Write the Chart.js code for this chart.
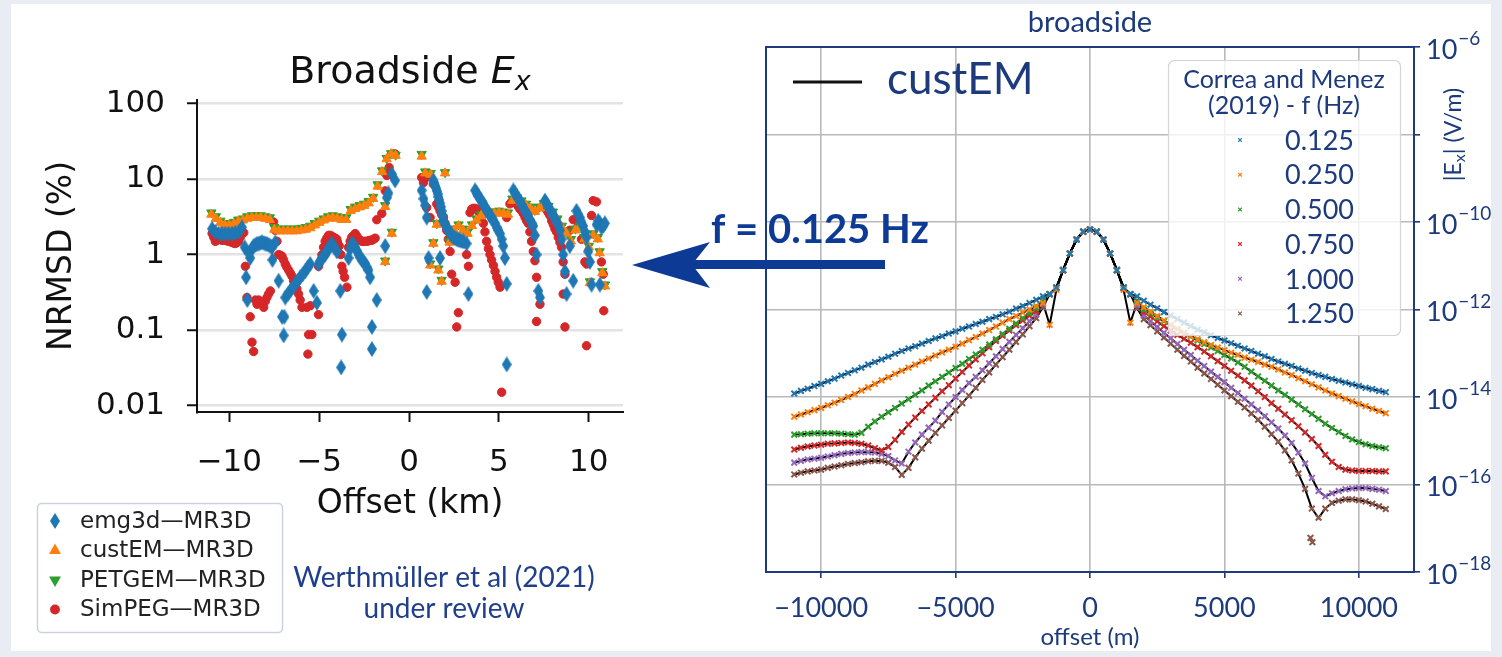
<!DOCTYPE html>
<html>
<head>
<meta charset="utf-8">
<script src="https://cdn.jsdelivr.net/npm/chart.js@4.4.1/dist/chart.umd.min.js"></script>
<style>
  html, body { margin: 0; padding: 0; }
  body { width: 1502px; height: 657px; background: #e9edf3; position: relative; overflow: hidden; }
  #panel { position: absolute; left: 11px; top: 4px; width: 1480px; height: 647px; background: #fff; }
  #leftBox { position: absolute; left: 0; top: 0; width: 640px; height: 657px; }
  #rightBox { position: absolute; left: 600px; top: 0; width: 902px; height: 657px; }
</style>
</head>
<body>
<div id="panel"></div>
<div id="leftBox"><canvas id="nrmsdChart"></canvas></div>
<div id="rightBox"><canvas id="fieldChart"></canvas></div>
<script>
// ---------- NRMSD panel: offset (km) / NRMSD (%) per code ----------
const emgX = [-10.96,-10.78,-10.59,-10.4,-10.22,-10.04,-9.85,-9.67,-9.48,-9.3,-9.15,-9.07,-9.0,-8.84,-8.74,-8.55,-8.37,-8.19,-8.0,-7.82,-7.63,-7.6,-7.44,-7.26,-7.07,-6.98,-6.94,-6.89,-6.61,-6.33,-6.06,-5.78,-5.5,-5.31,-5.13,-5.04,-4.85,-4.67,-4.48,-4.3,-4.02,-3.83,-3.74,-3.78,-3.37,-3.19,-3.0,-2.81,-2.63,-2.44,-2.26,-2.17,-2.07,-2.07,-1.8,-1.33,-1.24,-1.15,-0.96,-0.78,
  -8.93,-8.65,-8.46,-8.28,-8.09,-7.91,-7.72,-6.75,-6.47,-6.2,-5.92,-5.64,-4.95,-4.76,-4.58,-4.39,-4.16,-3.28,-3.09,-2.9,-2.72,-2.53,-2.35,
  0.7,0.8,0.89,0.98,1.08,0.98,1.35,1.45,1.54,1.63,1.72,1.81,1.91,2.09,2.28,2.46,2.65,2.83,3.02,1.72,3.2,3.3,3.67,3.85,4.04,4.22,4.41,4.59,4.78,4.96,5.15,5.33,5.43,5.43,5.8,5.98,6.17,6.35,6.54,6.72,6.91,7.09,7.19,7.28,7.56,7.74,7.93,8.11,8.3,8.48,8.57,8.67,8.76,8.94,9.13,9.31,9.5,9.68,9.87,9.96,10.06,10.15,10.43,10.52,10.61,10.7,10.8,10.89,10.61,
  1.4,1.5,1.59,1.68,1.77,1.86,2.0,2.18,2.37,2.56,2.74,2.92,3.76,3.94,4.13,4.31,4.5,4.69,4.87,5.06,5.24,5.89,6.08,6.26,6.45,6.63,6.82,7.0,7.65,7.84,8.02,8.2,8.39,9.41,9.59,9.78];
const emgY = [2.2,2.0,1.9,1.9,1.9,1.9,1.9,1.95,2.0,2.3,1.25,0.5,0.25,0.9,1.2,1.35,1.4,1.45,1.4,1.35,1.25,0.85,1.45,0.45,0.15,0.085,0.15,0.27,0.33,0.41,0.5,0.6,0.75,0.33,0.23,0.75,0.9,1.0,1.2,1.4,1.1,0.33,0.087,0.032,0.9,1.4,1.25,1.0,0.85,0.75,0.62,0.5,0.11,0.056,0.25,1.3,5.7,6.5,11.7,9.6,
  1.05,1.3,1.38,1.43,1.43,1.38,1.3,0.3,0.37,0.45,0.55,0.68,0.82,0.95,1.1,1.3,1.25,1.2,1.35,1.12,0.92,0.8,0.68,
  7.1,5.5,4.5,3.1,0.9,0.32,9.6,8.2,7.0,5.8,4.8,3.8,2.8,2.3,1.9,1.7,1.6,1.55,1.5,0.9,1.4,0.3,7.1,6.0,5.1,4.3,3.6,3.1,2.6,2.1,1.6,0.9,0.41,0.035,7.1,6.0,5.0,4.2,3.5,2.9,2.4,1.0,0.33,0.27,5.2,4.3,3.6,3.0,2.5,1.6,1.0,0.6,0.3,1.3,0.45,3.8,3.1,2.4,1.7,1.1,0.8,0.4,2.5,2.8,2.6,2.3,2.4,2.6,0.4,
  8.9,7.6,6.4,5.3,4.3,3.3,2.5,2.1,1.8,1.65,1.57,1.52,6.5,5.5,4.7,3.9,3.3,2.8,2.3,1.9,1.3,6.5,5.5,4.6,3.8,3.2,2.6,1.8,4.7,3.9,3.3,2.7,2.1,3.4,2.7,2.0];

const custX = [-11,-10.75,-10.5,-10.25,-10,-9.75,-9.5,-9.25,-9,-8.75,-8.5,-8.25,-8,-7.75,-7.5,-7.25,-7,-6.75,-6.5,-6.25,-6,-5.75,-5.5,-5.25,-5,-4.75,-4.5,-4.25,-4,-3.75,-3.5,-3.25,-3,-2.75,-2.5,-2.25,-2,-1.75,-1.5,-1.33,-1.33,-1.25,-1,-0.96,-0.75,
  0.7,0.9,1.17,1.2,1.35,1.54,1.63,1.81,2.0,2.25,2.5,2.75,3.0,3.25,3.5,3.75,4.0,4.25,4.5,4.75,5.0,5.25,5.5,5.75,6.0,6.25,6.5,6.75,7.0,7.25,7.5,7.75,8.0,8.25,8.5,8.75,9.0,9.25,9.5,9.75,10.0,10.06,10.25,10.5,10.6,10.75,10.9];
const custY = [3.4,3.0,2.65,2.45,2.45,2.55,2.75,2.85,3.0,3.1,3.1,3.1,3.0,2.9,2.15,2.05,2.05,2.05,2.05,2.05,2.1,2.15,2.25,2.45,2.65,2.85,3.0,3.1,3.0,2.9,2.9,3.8,4.05,4.25,4.45,4.8,5.5,8.0,12.5,4.3,0.8,18.5,21.5,1.9,20.5,
  20,12,0.72,11.5,1.4,2.5,0.62,0.44,12.0,1.45,2.1,2.4,2.1,1.9,2.4,2.85,3.25,3.4,3.5,3.5,3.6,3.5,3.4,5.2,5.4,4.9,4.5,4.1,3.7,4.1,4.6,4.2,3.5,2.85,2.3,1.9,1.5,2.1,2.3,1.6,1.25,0.42,1.8,1.6,1.05,0.57,0.38];

const petX = [-11,-10.75,-10.5,-10.25,-10,-9.75,-9.5,-9.25,-9,-8.75,-8.5,-8.25,-8,-7.75,-7.5,-7.25,-7,-6.75,-6.5,-6.25,-6,-5.75,-5.5,-5.25,-5,-4.75,-4.5,-4.25,-4,-3.75,-3.5,-3.25,-3,-2.75,-2.5,-2.25,-2,-1.75,-1.5,-1.33,-1.33,-1.25,-1,-0.96,-0.75,
  0.7,0.9,1.17,1.2,1.35,1.54,1.63,1.81,2.0,2.25,2.5,2.75,3.0,3.25,3.5,3.75,4.0,4.25,4.5,4.75,5.0,5.25,5.5,5.75,6.0,6.25,6.5,6.75,7.0,7.25,7.5,7.75,8.0,8.25,8.5,8.75,9.0,9.25,9.5,9.75,10.0,10.06,10.25,10.5,10.6,10.75,10.9];
const petY = [3.6,3.2,2.8,2.6,2.6,2.7,2.9,3.0,3.2,3.3,3.3,3.3,3.2,3.1,2.3,2.2,2.2,2.2,2.2,2.2,2.25,2.3,2.4,2.6,2.8,3.0,3.2,3.3,3.2,3.1,3.1,4.0,4.3,4.5,4.7,5.1,5.8,8.5,13,4.5,0.83,19,22,2.0,21,
  21.5,12.6,0.76,12.0,1.45,2.6,0.65,0.46,12.3,1.5,2.2,2.5,2.2,2.0,2.5,3.0,3.4,3.6,3.7,3.7,3.8,3.7,3.6,5.5,5.7,5.2,4.7,4.3,3.9,4.3,4.8,4.4,3.7,3.0,2.4,2.0,1.6,2.2,2.4,1.7,1.3,0.44,1.9,1.7,1.1,0.6,0.4];

const simX = [-10.96,-10.78,-10.59,-10.4,-10.22,-10.04,-9.85,-9.67,-9.48,-9.3,-9.2,-9.11,-9.02,-8.84,-8.74,-8.65,-8.55,-8.46,-8.28,-8.09,-7.91,-7.72,-7.54,-7.44,-7.26,-7.07,-6.89,-6.7,-6.52,-6.33,-6.15,-5.96,-5.69,-5.5,-5.59,-5.41,-5.63,-5.04,-5.04,-4.85,-4.67,-4.48,-4.21,-4.02,-3.89,-3.74,-3.59,-3.46,-3.37,-3.19,-3.0,-2.81,-2.63,-2.35,-2.07,-1.89,-1.8,-1.52,-1.33,-1.24,-1.11,-0.96,-0.78,
  -10.87,-10.68,-10.5,-10.31,-10.13,-9.94,-9.76,-9.57,-9.39,-8.37,-8.18,-8.0,-7.82,-7.35,-7.17,-6.98,-6.8,-6.61,-6.43,-6.24,-6.06,-4.76,-4.58,-4.39,-4.3,-4.11,-3.98,-3.8,-3.67,-3.28,-3.09,-2.9,-2.72,-2.53,-2.44,-2.26,-2.17,-1.98,
  0.7,0.8,0.98,1.08,1.17,1.35,0.98,1.17,1.54,1.72,1.91,2.09,2.28,2.37,2.56,2.74,2.65,3.11,3.2,3.3,3.39,3.48,3.76,4.13,4.31,4.5,4.69,4.87,5.06,5.15,5.43,5.61,5.98,6.35,6.63,6.81,7.0,7.09,7.28,7.09,7.46,7.83,8.2,8.48,8.57,8.67,8.57,8.67,8.94,9.13,9.41,9.59,9.78,9.87,9.87,10.15,10.24,10.43,10.61,10.7,10.8,10.83,
  1.63,1.81,2.0,2.18,3.57,3.67,3.85,3.94,4.22,4.41,4.59,4.78,4.96,5.7,5.8,6.08,6.17,6.26,6.45,6.54,6.72,6.91,7.56,7.65,7.74,7.93,8.02,8.11,8.3,8.39];
const simY = [1.9,1.5,1.6,1.55,1.55,1.5,1.45,1.4,1.5,1.9,1.95,0.7,0.27,0.15,0.069,0.052,0.25,0.22,0.24,0.2,0.27,0.33,2.7,2.1,1.0,0.95,0.75,0.62,0.52,0.4,0.3,0.2,0.2,0.21,0.087,0.087,0.048,0.7,0.16,1.0,1.5,1.8,1.7,1.6,1.3,0.7,0.5,0.37,1.25,1.7,1.9,1.6,1.5,1.5,1.55,1.65,2.9,3.5,7.0,11.2,14.3,21.6,21.6,
  1.7,1.55,1.58,1.55,1.52,1.48,1.42,1.45,1.7,0.25,0.22,0.24,0.3,1.5,0.98,0.85,0.68,0.57,0.45,0.35,0.25,1.25,1.65,1.8,1.75,1.65,1.45,1.0,0.6,1.5,1.8,1.75,1.55,1.5,1.5,1.52,1.55,1.6,
  10.5,9.0,10.7,11.5,11.0,8.6,4.2,3.1,4.7,3.8,3.1,2.1,1.1,0.55,0.43,0.17,0.11,1.4,1.0,0.7,3.6,4.0,4.0,2.6,1.5,1.0,0.72,0.5,0.37,0.015,3.1,4.7,4.7,3.5,2.6,1.5,0.83,0.5,0.22,0.13,4.5,3.3,2.0,1.25,0.8,0.55,0.3,0.11,2.1,2.9,2.4,1.6,0.8,0.75,0.062,3.3,5.2,5.0,2.6,0.8,0.55,0.18,
  4.3,3.4,2.6,1.6,4.1,4.1,3.8,3.4,2.0,1.2,0.85,0.6,0.43,5.0,4.9,4.3,4.0,3.8,3.1,2.8,2.0,1.1,4.3,3.9,3.6,2.8,2.5,2.2,1.7,1.45];

const nrmsdTicks = [0.01, 0.1, 1, 10, 100];
const kmTicks = [-10, -5, 0, 5, 10];
const nrmsdLabels = ['emg3d\u2014MR3D', 'custEM\u2014MR3D', 'PETGEM\u2014MR3D', 'SimPEG\u2014MR3D'];

// ---------- |Ex| panel: offset (m) / log10 |Ex| (V/m) per frequency ----------
const offsetsM = [-11000,-10750,-10500,-10250,-10000,-9750,-9500,-9250,-9000,-8750,-8500,-8250,-8000,-7750,-7500,-7250,-7000,-6750,-6500,-6250,-6000,-5750,-5500,-5250,-5000,-4750,-4500,-4250,-4000,-3750,-3500,-3250,-3000,-2750,-2500,-2250,-2000,
  -1750,-1500,-1250,-1000,-750,-500,-250,0,250,500,750,1000,1250,1500,1750,
  2000,2250,2500,2750,3000,3250,3500,3750,4000,4250,4500,4750,5000,5250,5500,5750,6000,6250,6500,6750,7000,7250,7500,7750,8000,8250,8500,8750,9000,9250,9500,9750,10000,10250,10500,10750,11000];
const freqLabels = ['0.125', '0.250', '0.500', '0.750', '1.000', '1.250'];
const log0125 = [-13.92,-13.86,-13.81,-13.75,-13.70,-13.64,-13.58,-13.51,-13.45,-13.39,-13.33,-13.26,-13.20,-13.14,-13.08,-13.01,-12.95,-12.89,-12.84,-12.78,-12.72,-12.66,-12.61,-12.55,-12.50,-12.44,-12.39,-12.33,-12.28,-12.22,-12.17,-12.11,-12.05,-11.98,-11.92,-11.85,-11.78,
  -11.70,-11.65,-11.50,-11.10,-10.72,-10.40,-10.22,-10.17,-10.22,-10.40,-10.72,-11.10,-11.50,-11.65,-11.70,
  -11.80,-11.89,-11.97,-12.06,-12.14,-12.22,-12.30,-12.38,-12.46,-12.52,-12.59,-12.65,-12.71,-12.77,-12.83,-12.89,-12.95,-13.01,-13.07,-13.13,-13.19,-13.24,-13.29,-13.35,-13.40,-13.45,-13.50,-13.54,-13.59,-13.63,-13.67,-13.71,-13.75,-13.79,-13.82,-13.86,-13.89];
const log0250 = [-14.45,-14.40,-14.35,-14.30,-14.25,-14.19,-14.13,-14.07,-14.00,-13.93,-13.85,-13.78,-13.70,-13.62,-13.55,-13.47,-13.40,-13.33,-13.26,-13.19,-13.12,-13.05,-12.98,-12.92,-12.85,-12.78,-12.70,-12.63,-12.55,-12.47,-12.39,-12.30,-12.22,-12.15,-12.07,-12.00,-11.92,
  -11.85,-12.35,-11.55,-11.10,-10.72,-10.40,-10.22,-10.17,-10.22,-10.40,-10.72,-11.10,-11.55,-12.30,-11.85,
  -11.95,-12.05,-12.15,-12.25,-12.35,-12.44,-12.53,-12.61,-12.68,-12.75,-12.81,-12.87,-12.93,-12.99,-13.04,-13.10,-13.15,-13.20,-13.26,-13.31,-13.37,-13.44,-13.50,-13.57,-13.64,-13.71,-13.78,-13.85,-13.92,-13.98,-14.04,-14.10,-14.16,-14.21,-14.27,-14.32,-14.37];
const log0500 = [-14.86,-14.85,-14.84,-14.83,-14.83,-14.83,-14.83,-14.84,-14.85,-14.86,-14.82,-14.68,-14.56,-14.45,-14.35,-14.25,-14.15,-14.05,-13.95,-13.85,-13.74,-13.64,-13.54,-13.44,-13.34,-13.24,-13.13,-13.03,-12.92,-12.80,-12.68,-12.56,-12.44,-12.32,-12.20,-12.08,-11.97,
  -11.78,-11.65,-11.50,-11.10,-10.72,-10.40,-10.22,-10.17,-10.22,-10.40,-10.72,-11.10,-11.50,-11.65,-11.80,
  -12.00,-12.09,-12.18,-12.27,-12.36,-12.45,-12.54,-12.62,-12.71,-12.79,-12.87,-12.95,-13.04,-13.12,-13.21,-13.31,-13.42,-13.53,-13.63,-13.74,-13.85,-13.95,-14.06,-14.17,-14.28,-14.39,-14.50,-14.61,-14.71,-14.80,-14.89,-14.97,-15.03,-15.08,-15.12,-15.15,-15.17];
const log0750 = [-15.20,-15.16,-15.13,-15.11,-15.09,-15.07,-15.06,-15.05,-15.04,-15.05,-15.07,-15.11,-15.17,-15.22,-15.14,-14.98,-14.80,-14.63,-14.47,-14.32,-14.17,-14.02,-13.87,-13.73,-13.58,-13.43,-13.28,-13.14,-13.00,-12.86,-12.72,-12.60,-12.48,-12.36,-12.25,-12.14,-12.04,
  -11.82,-11.65,-11.50,-11.10,-10.72,-10.40,-10.22,-10.17,-10.22,-10.40,-10.72,-11.10,-11.50,-11.65,-11.84,
  -12.06,-12.16,-12.27,-12.38,-12.48,-12.58,-12.67,-12.76,-12.86,-12.96,-13.07,-13.18,-13.29,-13.40,-13.51,-13.62,-13.74,-13.87,-14.00,-14.14,-14.27,-14.40,-14.53,-14.67,-14.81,-14.96,-15.12,-15.32,-15.48,-15.60,-15.66,-15.68,-15.69,-15.69,-15.69,-15.70,-15.70];
const log1000 = [-15.50,-15.46,-15.43,-15.41,-15.39,-15.36,-15.33,-15.30,-15.28,-15.27,-15.26,-15.26,-15.27,-15.30,-15.35,-15.45,-15.52,-15.25,-15.04,-14.86,-14.70,-14.54,-14.34,-14.17,-14.00,-13.84,-13.68,-13.54,-13.39,-13.23,-13.07,-12.90,-12.74,-12.58,-12.43,-12.27,-12.12,
  -11.88,-11.65,-11.50,-11.10,-10.72,-10.40,-10.22,-10.17,-10.22,-10.40,-10.72,-11.10,-11.50,-11.65,-11.90,
  -12.14,-12.27,-12.40,-12.53,-12.66,-12.79,-12.92,-13.04,-13.17,-13.29,-13.42,-13.54,-13.66,-13.79,-13.91,-14.04,-14.17,-14.30,-14.44,-14.58,-14.72,-14.88,-15.05,-15.27,-15.52,-15.85,-16.15,-16.27,-16.20,-16.15,-16.11,-16.09,-16.08,-16.08,-16.10,-16.12,-16.15];
const log1250 = [-15.77,-15.73,-15.70,-15.68,-15.66,-15.62,-15.59,-15.56,-15.53,-15.51,-15.49,-15.47,-15.46,-15.46,-15.50,-15.60,-15.78,-15.62,-15.38,-15.18,-15.00,-14.82,-14.65,-14.48,-14.31,-14.14,-13.97,-13.79,-13.61,-13.44,-13.26,-13.09,-12.92,-12.74,-12.57,-12.38,-12.20,
  -11.95,-11.65,-11.50,-11.10,-10.72,-10.40,-10.22,-10.17,-10.22,-10.40,-10.72,-11.10,-11.50,-11.65,-11.97,
  -12.22,-12.36,-12.50,-12.64,-12.78,-12.92,-13.06,-13.19,-13.33,-13.46,-13.59,-13.72,-13.85,-13.98,-14.11,-14.24,-14.38,-14.52,-14.68,-14.85,-15.02,-15.22,-15.45,-15.75,-16.10,-16.55,-16.76,-16.55,-16.42,-16.37,-16.34,-16.34,-16.36,-16.39,-16.44,-16.50,-16.56];
// stray 1.250 Hz samples below the minimum near 8.2 km
const extra1250X = [8200, 8270];
const extra1250Log = [-17.22, -17.32];

const fieldTicks = [1e-18, 1e-16, 1e-14, 1e-12, 1e-10, 1e-8, 1e-6];
const offsetTicks = [-10000, -5000, 0, 5000, 10000];

// ---------- styling ----------
const TAB = ['#1f77b4', '#ff7f0e', '#2ca02c', '#d62728', '#9467bd', '#8c564b'];
const NAVY = '#1c3a7c';
const ARROW = '#0c3a94';
const SANS = '"DejaVu Sans", sans-serif';
const SLIDE = 'Lato, "Open Sans", sans-serif';

const pairs = (xs, ys) => xs.map((x, i) => ({ x: x, y: ys[i] }));
const minusFmt = v => (v < 0 ? '\u2212' + Math.abs(v) : String(v));

// thin diamond marker for emg3d
const diamond = document.createElement('canvas');
diamond.width = 10; diamond.height = 16;
(function () {
  const c = diamond.getContext('2d');
  c.fillStyle = TAB[0];
  c.beginPath();
  c.moveTo(5, 0); c.lineTo(10, 8); c.lineTo(5, 16); c.lineTo(0, 8);
  c.closePath(); c.fill();
})();

const nrmsdStyles = [
  { pointStyle: diamond, radius: 5, rotation: 0 },
  { pointStyle: 'triangle', radius: 5.4, rotation: 0 },
  { pointStyle: 'triangle', radius: 5.4, rotation: 180 },
  { pointStyle: 'circle', radius: 4.2, rotation: 0 }
];

// text drawn around the NRMSD axes
const nrmsdDecor = {
  id: 'nrmsdDecor',
  afterDraw(chart) {
    const ctx = chart.ctx;
    const area = chart.chartArea;
    ctx.save();
    ctx.fillStyle = '#111';
    ctx.textBaseline = 'alphabetic';

    // title: Broadside E_x
    const t1 = 'Broadside ';
    ctx.font = '38px ' + SANS;
    const w1 = ctx.measureText(t1).width;
    ctx.font = 'italic 38px ' + SANS;
    const w2 = ctx.measureText('E').width;
    ctx.font = 'italic 27px ' + SANS;
    const w3 = ctx.measureText('x').width;
    const tx = (area.left + area.right) / 2 - (w1 + w2 + w3) / 2;
    ctx.textAlign = 'left';
    ctx.font = '38px ' + SANS;
    ctx.fillText(t1, tx, 83);
    ctx.font = 'italic 38px ' + SANS;
    ctx.fillText('E', tx + w1, 83);
    ctx.font = 'italic 27px ' + SANS;
    ctx.fillText('x', tx + w1 + w2, 90);

    // axis titles
    ctx.font = '33px ' + SANS;
    ctx.textAlign = 'center';
    ctx.textBaseline = 'middle';
    ctx.fillText('Offset (km)', (area.left + area.right) / 2, 504);
    ctx.save();
    ctx.translate(62, (area.top + area.bottom) / 2);
    ctx.rotate(-Math.PI / 2);
    ctx.fillText('NRMSD (%)', 0, 0);
    ctx.restore();

    // legend box
    ctx.fillStyle = '#fff';
    ctx.strokeStyle = '#c9d3df';
    ctx.lineWidth = 1.5;
    ctx.beginPath();
    ctx.roundRect(37.5, 503.5, 245, 129, 4);
    ctx.fill();
    ctx.stroke();
    ctx.font = '23px ' + SANS;
    ctx.textAlign = 'left';
    nrmsdLabels.forEach((lab, i) => {
      const y = 521 + i * 29.5;
      const st = nrmsdStyles[i];
      ctx.fillStyle = TAB[i];
      ctx.strokeStyle = TAB[i];
      Chart.helpers.drawPoint(ctx, { pointStyle: st.pointStyle, radius: st.radius, rotation: st.rotation, borderWidth: 1 }, 55, y);
      ctx.fillStyle = '#222';
      ctx.fillText(lab, 80, y + 1);
    });

    // citation
    ctx.fillStyle = '#1f3f8c';
    ctx.font = '28px ' + SLIDE;
    ctx.textAlign = 'center';
    ctx.fillText('Werthm\u00fcller et al (2021)', 444, 578);
    ctx.fillText('under review', 444, 609);
    ctx.restore();
  }
};

new Chart(document.getElementById('nrmsdChart'), {
  type: 'scatter',
  data: {
    datasets: [
      { label: nrmsdLabels[0], data: pairs(emgX, emgY), pointStyle: diamond, pointRadius: 5, backgroundColor: TAB[0], borderColor: TAB[0] },
      { label: nrmsdLabels[1], data: pairs(custX, custY), pointStyle: 'triangle', pointRadius: 5.4, backgroundColor: TAB[1], borderColor: TAB[1] },
      { label: nrmsdLabels[2], data: pairs(petX, petY), pointStyle: 'triangle', rotation: 180, pointRadius: 5.4, backgroundColor: TAB[2], borderColor: TAB[2] },
      { label: nrmsdLabels[3], data: pairs(simX, simY), pointStyle: 'circle', pointRadius: 4.2, backgroundColor: TAB[3], borderColor: TAB[3] }
    ]
  },
  options: {
    responsive: true,
    maintainAspectRatio: false,
    animation: false,
    layout: { padding: { left: 0, right: 17, top: 100, bottom: 0 } },
    plugins: { legend: { display: false }, tooltip: { enabled: false } },
    scales: {
      x: {
        type: 'linear', min: -11.8, max: 11.9,
        afterBuildTicks: s => { s.ticks = kmTicks.map(v => ({ value: v })); },
        afterFit: s => { s.height = 245; },
        grid: { drawOnChartArea: false, drawTicks: true, tickLength: 10, tickColor: '#111', tickWidth: 2 },
        border: { color: '#111', width: 2 },
        ticks: { color: '#111', font: { family: SANS, size: 31 }, padding: 22, maxRotation: 0, callback: v => minusFmt(v) }
      },
      y: {
        type: 'logarithmic', min: 0.0082, max: 112,
        afterBuildTicks: s => { s.ticks = nrmsdTicks.map(v => ({ value: v })); },
        afterFit: s => { s.width = 197; },
        grid: { color: '#e3e3e3', lineWidth: 2.5, tickLength: 10, tickColor: '#111', tickWidth: 2 },
        border: { color: '#111', width: 2 },
        ticks: { color: '#111', font: { family: SANS, size: 31 }, padding: 22, callback: v => String(v) }
      }
    }
  },
  plugins: [nrmsdDecor]
});

// ---------- |Ex| panel ----------
const fieldLogs = [log0125, log0250, log0500, log0750, log1000, log1250];
const markerSets = fieldLogs.map((lg, i) => {
  const pts = offsetsM.map((x, k) => ({ x: x, y: Math.pow(10, lg[k]) }));
  if (i === 5) extra1250X.forEach((x, k) => pts.push({ x: x, y: Math.pow(10, extra1250Log[k]) }));
  return {
    type: 'scatter', label: freqLabels[i], data: pts,
    pointStyle: 'crossRot', pointRadius: 4, borderWidth: 2, borderColor: TAB[i], backgroundColor: TAB[i]
  };
});
const lineSets = fieldLogs.map(lg => ({
  type: 'line', label: 'custEM',
  data: offsetsM.map((x, k) => ({ x: x, y: Math.pow(10, lg[k]) })),
  borderColor: '#000', borderWidth: 2, tension: 0, fill: false,
  pointStyle: 'triangle', backgroundColor: '#000', pointBorderWidth: 0,
  pointRadius: ctx => (ctx.index % 2 === 0 ? 2 : 0)
}));

function drawPow(ctx, x, y, exp) {
  ctx.textAlign = 'left';
  ctx.textBaseline = 'middle';
  ctx.font = '27px ' + SLIDE;
  ctx.fillText('10', x, y + 3);
  const w = ctx.measureText('10').width;
  ctx.font = '19px ' + SLIDE;
  ctx.fillText('\u2212' + Math.abs(exp), x + w + 1, y - 8);
}

const fieldDecor = {
  id: 'fieldDecor',
  afterDatasetsDraw(chart) {
    const ctx = chart.ctx;
    // frequency legend, semi-transparent over the curves
    const bx = 568, by = 60, bw = 232, bh = 275;
    ctx.save();
    ctx.fillStyle = 'rgba(255,255,255,0.8)';
    ctx.strokeStyle = '#d4d4d4';
    ctx.lineWidth = 1.2;
    ctx.beginPath();
    ctx.roundRect(bx + 0.5, by + 0.5, bw, bh, 6);
    ctx.fill();
    ctx.stroke();
    ctx.fillStyle = NAVY;
    ctx.textAlign = 'center';
    ctx.textBaseline = 'middle';
    ctx.font = '25px ' + SLIDE;
    ctx.fillText('Correa and Menez', bx + bw / 2, 80);
    ctx.fillText('(2019) - f (Hz)', bx + bw / 2, 106);
    ctx.font = '27px ' + SLIDE;
    ctx.textAlign = 'left';
    freqLabels.forEach((lab, i) => {
      const y = 140 + i * 34.7;
      ctx.strokeStyle = TAB[i];
      Chart.helpers.drawPoint(ctx, { pointStyle: 'crossRot', radius: 2.6, borderWidth: 1.6 }, 640, y);
      ctx.fillStyle = NAVY;
      ctx.fillText(lab, 685, y + 1);
    });
    ctx.restore();
  },
  afterDraw(chart) {
    const ctx = chart.ctx;
    const a = chart.chartArea;
    const ys = chart.scales.y;
    ctx.save();
    // full frame
    ctx.strokeStyle = NAVY;
    ctx.lineWidth = 2;
    ctx.strokeRect(a.left, a.top, a.right - a.left, a.bottom - a.top);

    ctx.fillStyle = NAVY;
    ctx.textAlign = 'center';
    ctx.textBaseline = 'middle';
    ctx.font = '29px ' + SLIDE;
    ctx.fillText('broadside', (a.left + a.right) / 2, 23);
    ctx.font = '24px ' + SLIDE;
    ctx.fillText('offset (m)', (a.left + a.right) / 2, 637);

    // right axis labels, 10^-8 gives way to the axis title
    fieldTicks.forEach(v => {
      const e = Math.round(Math.log10(v));
      if (e === -8) return;
      drawPow(ctx, a.right + 12, ys.getPixelForValue(v), e);
    });
    ctx.save();
    ctx.translate(a.right + 40, ys.getPixelForValue(1e-8));
    ctx.rotate(-Math.PI / 2);
    ctx.textAlign = 'left';
    ctx.textBaseline = 'middle';
    ctx.font = '23px ' + SLIDE;
    const p1 = '|E', p3 = '| (V/m)';
    const w1 = ctx.measureText(p1).width;
    ctx.font = '16px ' + SLIDE;
    const w2 = ctx.measureText('x').width;
    ctx.font = '23px ' + SLIDE;
    const w3 = ctx.measureText(p3).width;
    const sx = -(w1 + w2 + w3) / 2;
    ctx.fillText(p1, sx, 0);
    ctx.font = '16px ' + SLIDE;
    ctx.fillText('x', sx + w1, 6);
    ctx.font = '23px ' + SLIDE;
    ctx.fillText(p3, sx + w1 + w2, 0);
    ctx.restore();

    // custEM line legend
    ctx.strokeStyle = '#111';
    ctx.lineWidth = 3;
    ctx.beginPath();
    ctx.moveTo(193, 82); ctx.lineTo(262, 82);
    ctx.stroke();
    ctx.fillStyle = NAVY;
    ctx.textAlign = 'left';
    ctx.font = '44px ' + SLIDE;
    ctx.fillText('custEM', 287, 80);

    // arrow pointing to the NRMSD panel
    ctx.fillStyle = ARROW;
    ctx.fillRect(88, 260, 197, 9);
    ctx.beginPath();
    ctx.moveTo(32, 265);
    ctx.lineTo(110, 242);
    ctx.lineTo(92, 264.5);
    ctx.lineTo(110, 288);
    ctx.closePath();
    ctx.fill();
    ctx.font = 'bold 40px ' + SLIDE;
    ctx.textBaseline = 'alphabetic';
    ctx.fillText('f = 0.125 Hz', 111, 243);
    ctx.restore();
  }
};

new Chart(document.getElementById('fieldChart'), {
  type: 'scatter',
  data: { datasets: markerSets.concat(lineSets) },
  options: {
    responsive: true,
    maintainAspectRatio: false,
    animation: false,
    layout: { padding: { left: 166, right: 0, top: 47, bottom: 0 } },
    plugins: { legend: { display: false }, tooltip: { enabled: false } },
    scales: {
      x: {
        type: 'linear', min: -12050, max: 12050,
        afterBuildTicks: s => { s.ticks = offsetTicks.map(v => ({ value: v })); },
        afterFit: s => { s.height = 85; },
        grid: { color: '#b9b9b9', lineWidth: 1.6, tickLength: 6, tickColor: NAVY, tickWidth: 1.6 },
        border: { color: NAVY, width: 2 },
        ticks: { color: NAVY, font: { family: SLIDE, size: 27 }, padding: 14, maxRotation: 0, callback: v => minusFmt(v) }
      },
      y: {
        type: 'logarithmic', position: 'right', min: 1e-18, max: 1e-6,
        afterBuildTicks: s => { s.ticks = fieldTicks.map(v => ({ value: v })); },
        afterFit: s => { s.width = 88; },
        grid: { color: '#b9b9b9', lineWidth: 1.6, tickLength: 6, tickColor: NAVY, tickWidth: 1.6 },
        border: { color: NAVY, width: 2 },
        ticks: { display: false }
      }
    }
  },
  plugins: [fieldDecor]
});
</script>
</body>
</html>
